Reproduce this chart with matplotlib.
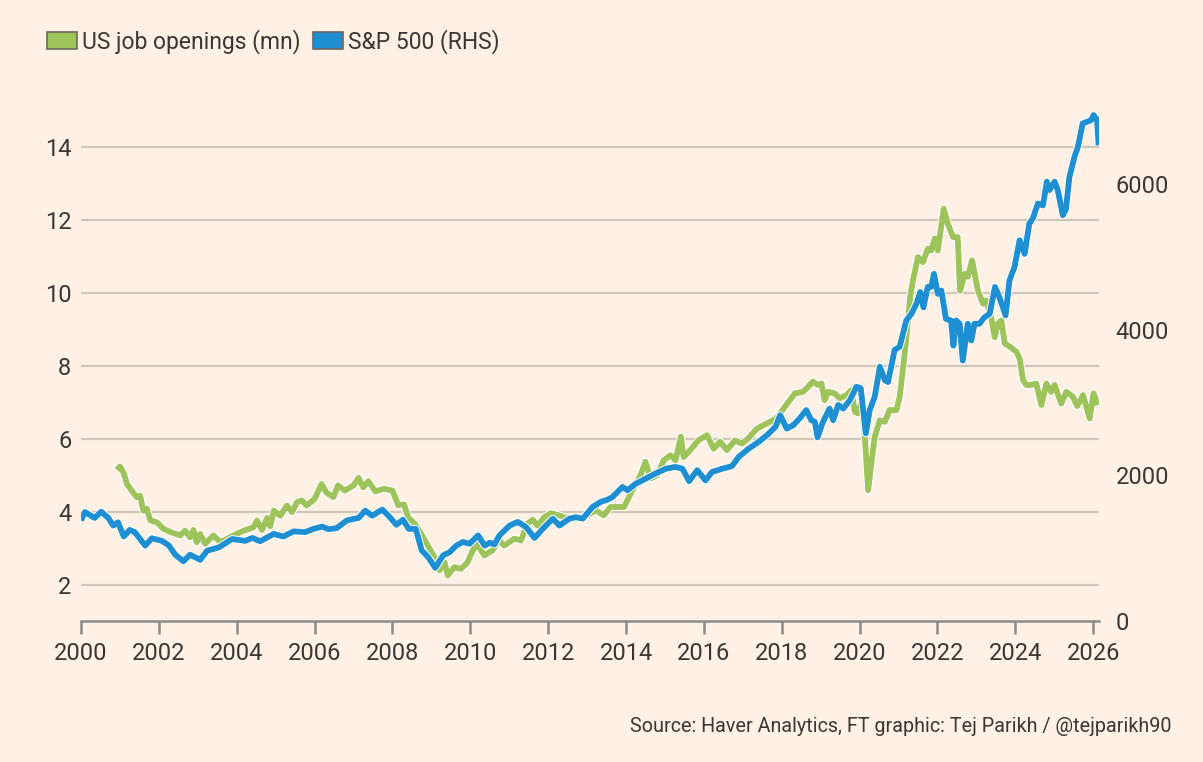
import matplotlib
matplotlib.use("Agg")
import matplotlib.pyplot as plt
import matplotlib.patheffects as pe
from matplotlib.patches import Patch

# ---------------- data ----------------
jobs_t = [2000.92, 2001.0, 2001.09, 2001.18, 2001.3, 2001.43, 2001.52, 2001.6, 2001.69, 2001.78,
          2001.95, 2002.12, 2002.3, 2002.55, 2002.67, 2002.8, 2002.89, 2002.97, 2003.06, 2003.19,
          2003.4, 2003.58, 2003.92, 2004.18, 2004.43, 2004.52, 2004.65, 2004.78, 2004.86, 2004.95,
          2005.12, 2005.29, 2005.42, 2005.55, 2005.67, 2005.8, 2006.0, 2006.18, 2006.3, 2006.48,
          2006.6, 2006.78, 2007.0, 2007.13, 2007.25, 2007.38, 2007.56, 2007.78, 2008.0, 2008.15,
          2008.3, 2008.4, 2008.57, 2008.74, 2008.91, 2009.08, 2009.21, 2009.34, 2009.42, 2009.59,
          2009.76, 2009.93, 2010.06, 2010.19, 2010.36, 2010.57, 2010.74, 2010.87, 2011.13, 2011.3,
          2011.47, 2011.6, 2011.73, 2011.9, 2012.07, 2012.28, 2012.5, 2012.75, 2013.0, 2013.22,
          2013.43, 2013.6, 2013.77, 2013.95, 2014.12, 2014.37, 2014.5, 2014.63, 2014.8, 2014.97,
          2015.14, 2015.27, 2015.41, 2015.48, 2015.65, 2015.86, 2016.08, 2016.25, 2016.42, 2016.59,
          2016.8, 2016.97, 2017.14, 2017.36, 2017.61, 2017.87, 2018.08, 2018.34, 2018.55, 2018.68,
          2018.8, 2018.93, 2019.02, 2019.1, 2019.19, 2019.36, 2019.49, 2019.66, 2019.79, 2019.88,
          2019.96, 2020.05, 2020.13, 2020.22, 2020.3, 2020.39, 2020.52, 2020.65, 2020.77, 2020.95,
          2021.03, 2021.12, 2021.2, 2021.3, 2021.37, 2021.5, 2021.63, 2021.75, 2021.84, 2021.93,
          2022.01, 2022.16, 2022.27, 2022.4, 2022.52, 2022.58, 2022.7, 2022.78, 2022.89, 2023.04,
          2023.17, 2023.25, 2023.38, 2023.47, 2023.55, 2023.64, 2023.73, 2023.86, 2024.03, 2024.11,
          2024.2, 2024.28, 2024.41, 2024.54, 2024.67, 2024.8, 2024.92, 2025.01, 2025.18, 2025.31,
          2025.48, 2025.59, 2025.74, 2025.91, 2026.01, 2026.12]
jobs_v = [5.15, 5.24, 5.08, 4.76, 4.58, 4.4, 4.44, 4.03, 4.08, 3.76,
          3.71, 3.53, 3.44, 3.35, 3.48, 3.3, 3.5, 3.16, 3.39, 3.12,
          3.35, 3.16, 3.35, 3.48, 3.57, 3.76, 3.5, 3.83, 3.6, 4.03,
          3.89, 4.17, 3.99, 4.26, 4.31, 4.17, 4.35, 4.76, 4.53, 4.4,
          4.72, 4.58, 4.72, 4.93, 4.67, 4.84, 4.56, 4.63, 4.58, 4.18,
          4.2, 3.85, 3.67, 3.39, 3.07, 2.75, 2.39, 2.61, 2.25, 2.48,
          2.43, 2.61, 2.94, 3.1, 2.8, 2.94, 3.21, 3.07, 3.26, 3.21,
          3.67, 3.78, 3.62, 3.85, 3.96, 3.9, 3.81, 3.81, 3.9, 4.04,
          3.9, 4.13, 4.13, 4.13, 4.5, 5.0, 5.37, 4.91, 5.0, 5.41,
          5.55, 5.41, 6.06, 5.5, 5.69, 5.96, 6.1, 5.73, 5.92, 5.69,
          5.96, 5.87, 6.01, 6.28, 6.42, 6.56, 6.88, 7.25, 7.29, 7.43,
          7.57, 7.48, 7.52, 7.06, 7.29, 7.25, 7.11, 7.2, 7.34, 6.74,
          6.7, 7.0, 6.15, 4.59, 5.32, 6.06, 6.51, 6.47, 6.79, 6.79,
          7.16, 7.98, 8.76, 9.9, 10.35, 10.99, 10.85, 11.22, 11.17, 11.5,
          11.17, 12.32, 11.9, 11.54, 11.54, 10.07, 10.53, 10.45, 10.9, 10.07,
          9.71, 9.8, 9.34, 8.79, 9.16, 9.25, 8.62, 8.53, 8.39, 8.21,
          7.61, 7.48, 7.48, 7.52, 6.93, 7.52, 7.29, 7.48, 6.97, 7.29,
          7.16, 6.9, 7.2, 6.56, 7.25, 6.93]

spx_t = [2000.0, 2000.1, 2000.35, 2000.52, 2000.7, 2000.83, 2000.95, 2001.1, 2001.25, 2001.38,
         2001.65, 2001.82, 2002.08, 2002.26, 2002.42, 2002.63, 2002.8, 2003.06, 2003.24, 2003.54,
         2003.88, 2004.22, 2004.4, 2004.6, 2004.95, 2005.2, 2005.46, 2005.76, 2005.97, 2006.2,
         2006.35, 2006.57, 2006.83, 2007.13, 2007.3, 2007.48, 2007.74, 2007.9, 2008.1, 2008.27,
         2008.42, 2008.6, 2008.75, 2008.92, 2009.1, 2009.3, 2009.47, 2009.64, 2009.81, 2009.98,
         2010.2, 2010.37, 2010.5, 2010.62, 2010.75, 2011.01, 2011.22, 2011.43, 2011.65, 2011.86,
         2012.12, 2012.29, 2012.55, 2012.71, 2012.89, 2013.14, 2013.35, 2013.52, 2013.65, 2013.91,
         2014.04, 2014.25, 2014.51, 2014.76, 2015.02, 2015.27, 2015.45, 2015.62, 2015.83, 2016.04,
         2016.21, 2016.47, 2016.72, 2016.89, 2017.15, 2017.41, 2017.62, 2017.84, 2017.96, 2018.13,
         2018.3, 2018.46, 2018.63, 2018.76, 2018.85, 2018.92, 2019.06, 2019.23, 2019.32, 2019.45,
         2019.58, 2019.75, 2019.92, 2020.03, 2020.16, 2020.26, 2020.39, 2020.52, 2020.65, 2020.73,
         2020.9, 2021.03, 2021.2, 2021.33, 2021.46, 2021.56, 2021.64, 2021.75, 2021.84, 2021.91,
         2022.01, 2022.1, 2022.22, 2022.35, 2022.41, 2022.48, 2022.57, 2022.65, 2022.78, 2022.87,
         2022.95, 2023.08, 2023.21, 2023.34, 2023.48, 2023.59, 2023.75, 2023.85, 2023.98, 2024.11,
         2024.24, 2024.36, 2024.45, 2024.58, 2024.71, 2024.81, 2024.88, 2025.01, 2025.09, 2025.22,
         2025.3, 2025.39, 2025.52, 2025.61, 2025.73, 2025.86, 2025.95, 2026.01, 2026.1, 2026.14]
spx_v = [1380, 1495, 1415, 1500, 1415, 1310, 1355, 1160, 1250, 1220,
         1035, 1135, 1100, 1035, 910, 820, 910, 840, 965, 1010,
         1125, 1100, 1140, 1095, 1195, 1160, 1230, 1220, 1265, 1295,
         1260, 1275, 1380, 1415, 1515, 1445, 1530, 1445, 1320, 1390,
         1265, 1265, 970, 875, 730, 900, 945, 1035, 1085, 1060,
         1175, 1035, 1075, 1050, 1175, 1310, 1360, 1290, 1140, 1265,
         1405, 1310, 1405, 1425, 1405, 1565, 1635, 1665, 1700, 1840,
         1795, 1885, 1955, 2025, 2090, 2115, 2090, 1920, 2070, 1930,
         2045, 2090, 2125, 2250, 2365, 2460, 2550, 2665, 2825, 2640,
         2690, 2780, 2895, 2755, 2735, 2520, 2735, 2915, 2755, 2965,
         2915, 3030, 3215, 3195, 2575, 2895, 3080, 3490, 3305, 3280,
         3720, 3765, 4125, 4215, 4355, 4515, 4305, 4585, 4585, 4765,
         4490, 4535, 4145, 4125, 3780, 4125, 4080, 3575, 4080, 3850,
         4080, 4080, 4170, 4215, 4585, 4445, 4195, 4675, 4860, 5225,
         5040, 5455, 5525, 5730, 5705, 6030, 5915, 6030, 5915, 5570,
         5650, 6095, 6370, 6510, 6830, 6855, 6875, 6945, 6875, 6530]

left_ticks = [2, 4, 6, 8, 10, 12, 14]
right_ticks = [0, 2000, 4000, 6000]
x_ticks = list(range(2000, 2027, 2))

series_labels = ["US job openings (mn)", "S&P 500 (RHS)"]
source_text = "Source: Haver Analytics, FT graphic: Tej Parikh / @tejparikh90"

# ---------------- style ----------------
BG = "#FFF1E5"
GREEN = "#9dc35a"
BLUE = "#1e8fd2"
TEXT = "#3a3633"
GRID = "#cfc5b8"
AXIS = "#8e8984"

plt.rcParams['font.family'] = ['Roboto', 'DejaVu Sans']

fig = plt.figure(figsize=(12.03, 7.62), dpi=100, facecolor=BG)
ax = fig.add_axes([81 / 1203, 141 / 762, (1099 - 81) / 1203, (621 - 111) / 762])
ax.set_facecolor(BG)
ax2 = ax.twinx()

halo = [pe.Stroke(linewidth=5.6, foreground="white"), pe.Normal()]
ax.plot(jobs_t, jobs_v, color=GREEN, lw=4.2, solid_joinstyle="round",
        solid_capstyle="butt", path_effects=halo, zorder=3)
ax2.plot(spx_t, spx_v, color=BLUE, lw=4.2, solid_joinstyle="round",
         solid_capstyle="butt", path_effects=halo, zorder=3)

ax.set_xlim(2000, 2026.15)
ax.set_ylim(1, 15)
ax2.set_ylim(0, 7000)

ax.set_yticks(left_ticks)
ax.set_yticklabels([str(t) for t in left_ticks])
ax2.set_yticks(right_ticks)
ax2.set_yticklabels([str(t) for t in right_ticks])
ax.set_xticks(x_ticks)
ax.set_xticklabels([str(t) for t in x_ticks])

ax.yaxis.grid(True, color=GRID, lw=1.6)
ax.set_axisbelow(True)

for a in (ax, ax2):
    for s in ("top", "right", "left"):
        a.spines[s].set_visible(False)
ax2.spines["bottom"].set_visible(False)
ax.spines["bottom"].set_color(AXIS)
ax.spines["bottom"].set_linewidth(1.8)

ax.tick_params(axis="y", length=0, pad=7, labelsize=17, labelcolor=TEXT)
ax2.tick_params(axis="y", length=0, pad=12, labelsize=17, labelcolor=TEXT)
ax.tick_params(axis="x", length=9, width=1.8, color=AXIS, pad=6, labelsize=17, labelcolor=TEXT)

handles = [Patch(facecolor=GREEN, edgecolor="#6b6661", lw=1.2),
           Patch(facecolor=BLUE, edgecolor="#6b6661", lw=1.2)]
fig.legend(handles, series_labels, loc="upper left", bbox_to_anchor=(47 / 1203, 1 - 29 / 762),
           frameon=False, fontsize=16.5, labelcolor=TEXT, ncol=2,
           handlelength=1.3, handleheight=0.75, handletextpad=0.22, columnspacing=0.55,
           borderaxespad=0, borderpad=0)

fig.text(1172 / 1203, 1 - 726 / 762, source_text, ha="right", va="center",
         fontsize=14.2, color=TEXT)

fig.savefig("out.png", dpi=100, facecolor=BG)
